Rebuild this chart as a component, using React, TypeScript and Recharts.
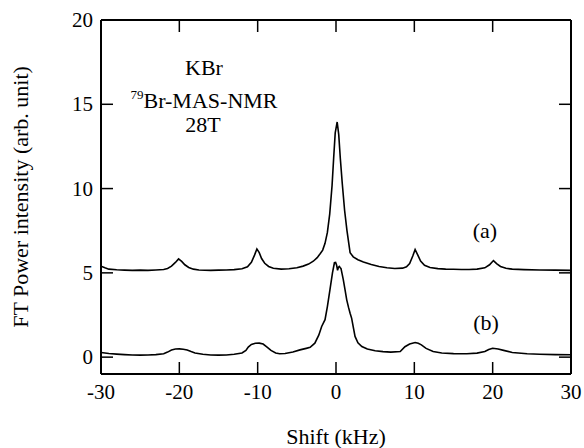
import { LineChart, Line, XAxis, YAxis, Customized } from 'recharts'

const xTicks = [-30, -20, -10, 0, 10, 20, 30]
const yTicks = [0, 5, 10, 15, 20]

// spectrum (a), upper trace
const shiftA = [
  -30, -29.5, -29, -28, -27, -26, -25, -24, -23, -22, -21.5, -21, -20.5, -20.1, -19.7, -19.3, -18.8, -18.2, -17.5,
  -16, -15, -14, -13, -12, -11.3, -10.8, -10.4, -10.1, -9.8, -9.5, -9.1, -8.6, -8, -7, -6, -5, -4.2, -3.5, -2.9,
  -2.4, -2, -1.7, -1.4, -1.1, -0.8, -0.5, -0.3, -0.1, 0.15, 0.35, 0.55, 0.8, 1.1, 1.4, 1.8, 2.2, 2.8, 3.5, 4.5,
  5.5, 6.5, 7.5, 8.5, 9, 9.4, 9.8, 10.1, 10.4, 10.8, 11.3, 12, 13, 14, 15, 16, 17, 18, 19, 19.6, 20.1, 20.5, 21,
  21.7, 22.5, 24, 26, 28, 30,
]
const intensityA = [
  5.4, 5.3, 5.22, 5.18, 5.16, 5.15, 5.16, 5.15, 5.17, 5.2, 5.26, 5.4, 5.62, 5.83, 5.68, 5.48, 5.32, 5.22, 5.17,
  5.15, 5.16, 5.17, 5.19, 5.24, 5.36, 5.62, 6.05, 6.42, 6.2, 5.85, 5.57, 5.38, 5.27, 5.22, 5.24, 5.3, 5.4, 5.52, 5.69,
  5.9, 6.15, 6.35, 6.75, 7.4, 8.5, 10.2, 11.8, 13.3, 13.95, 13.2, 11.8, 10.3, 8.7, 7.5, 6.2, 5.95, 5.78, 5.65, 5.5,
  5.38, 5.3, 5.26, 5.28, 5.36, 5.55, 6.0, 6.38, 6.1, 5.7, 5.45, 5.32, 5.25, 5.22, 5.21, 5.2, 5.2, 5.22, 5.3, 5.48,
  5.73, 5.55, 5.38, 5.27, 5.22, 5.19, 5.17, 5.16, 5.15,
]

// spectrum (b), lower trace
const shiftB = [
  -30, -29, -28, -27, -26, -25, -24, -23, -22, -21.5, -21, -20.5, -20, -19.5, -19, -18.5, -18, -17, -16, -15, -14,
  -13, -12, -11.5, -11.2, -10.8, -10.3, -9.8, -9.3, -8.8, -8.3, -7.7, -7.2, -6.5, -5.5, -4.6, -3.8, -3.3, -2.7,
  -2.2, -1.83, -1.4, -1.1, -0.77, -0.45, -0.2, -0.05, 0.08, 0.2, 0.3, 0.42, 0.55, 0.64, 0.8, 0.93, 1.15, 1.37, 1.6,
  1.8, 2, 2.2, 2.43, 2.8, 3.3, 4, 5, 6, 7, 8.2, 8.8, 9.4, 10.1, 10.5, 10.9, 11.5, 12.4, 13.5, 15, 16.7, 18, 19,
  19.5, 20, 20.7, 21.4, 22.5, 24.4, 26, 28, 30,
]
const intensityB = [
  0.28, 0.22, 0.18, 0.15, 0.13, 0.12, 0.13, 0.15, 0.2, 0.3, 0.42, 0.48, 0.49, 0.47, 0.42, 0.33, 0.25, 0.17, 0.13,
  0.12, 0.13, 0.17, 0.25, 0.4, 0.6, 0.75, 0.82, 0.83, 0.78, 0.6, 0.4, 0.25, 0.2, 0.22, 0.3, 0.43, 0.52, 0.58, 0.83,
  1.3, 1.82, 2.22, 3.0, 4.0, 5.0, 5.6, 5.62, 5.45, 5.15, 5.32, 5.38, 5.3, 5.25, 4.9, 4.6, 4.0, 3.4, 2.95, 2.6, 2.3,
  1.8, 1.23, 0.85, 0.63, 0.48, 0.38, 0.33, 0.3, 0.33, 0.62, 0.78, 0.87, 0.82, 0.73, 0.52, 0.33, 0.25, 0.21, 0.2,
  0.24, 0.33, 0.45, 0.53, 0.48, 0.4, 0.28, 0.2, 0.17, 0.15, 0.14,
]

const dataA = shiftA.map((x, i) => ({ x, y: intensityA[i] }))
const dataB = shiftB.map((x, i) => ({ x, y: intensityB[i] }))

const FONT = '"Liberation Serif", "Times New Roman", serif'
const TICK_LEN = 12

const BottomTick = ({ x, y, payload }: any) => (
  <g>
    <line x1={x} y1={y} x2={x} y2={y - TICK_LEN} stroke="#000" strokeWidth={1.5} />
    <text x={x} y={y + 25} textAnchor="middle" fontSize={21} fontFamily={FONT} fill="#000">
      {payload.value}
    </text>
  </g>
)

const TopTick = ({ x, y }: any) => (
  <line x1={x} y1={y} x2={x} y2={y + TICK_LEN} stroke="#000" strokeWidth={1.5} />
)

const LeftTick = ({ x, y, payload }: any) => (
  <g>
    <line x1={x} y1={y} x2={x + TICK_LEN} y2={y} stroke="#000" strokeWidth={1.5} />
    <text x={x - 8} y={y + 7} textAnchor="end" fontSize={21} fontFamily={FONT} fill="#000">
      {payload.value}
    </text>
  </g>
)

const RightTick = ({ x, y }: any) => (
  <line x1={x} y1={y} x2={x - TICK_LEN} y2={y} stroke="#000" strokeWidth={1.5} />
)

const Annotations = () => (
  <g fontFamily={FONT} fontSize={22} fill="#000">
    <text x={204} y={75} textAnchor="middle">KBr</text>
    <text x={204} y={108} textAnchor="middle">
      <tspan fontSize={13} dy={-9}>79</tspan>
      <tspan dy={9}>Br-MAS-NMR</tspan>
    </text>
    <text x={203} y={132} textAnchor="middle">28T</text>
    <text x={485} y={238} textAnchor="middle">(a)</text>
    <text x={486} y={330} textAnchor="middle">(b)</text>
  </g>
)

export default function App() {
  return (
    <div style={{ position: 'absolute', left: 0, top: 0, background: '#fff' }}>
      <LineChart width={584} height={448} margin={{ top: 0, right: 0, bottom: 0, left: 0 }}>
        <XAxis
          type="number"
          dataKey="x"
          domain={[-30, 30]}
          ticks={xTicks}
          allowDataOverflow
          height={74}
          tickSize={0}
          tickMargin={0}
          tickLine={false}
          axisLine={{ stroke: '#000', strokeWidth: 2 }}
          tick={<BottomTick />}
          label={{
            content: ({ viewBox }: any) => (
              <text x={viewBox.x + viewBox.width / 2} y={viewBox.y + 70} textAnchor="middle"
                fontSize={22} fontFamily={FONT} fill="#000">
                Shift (kHz)
              </text>
            ),
          }}
        />
        <XAxis
          xAxisId="top"
          orientation="top"
          type="number"
          dataKey="x"
          domain={[-30, 30]}
          ticks={xTicks}
          allowDataOverflow
          height={20}
          tickSize={0}
          tickMargin={0}
          tickLine={false}
          axisLine={{ stroke: '#000', strokeWidth: 2 }}
          tick={<TopTick />}
        />
        <YAxis
          type="number"
          domain={[-1, 20]}
          ticks={yTicks}
          allowDataOverflow
          width={101}
          tickSize={0}
          tickMargin={0}
          tickLine={false}
          axisLine={{ stroke: '#000', strokeWidth: 2 }}
          tick={<LeftTick />}
          label={{
            content: ({ viewBox }: any) => {
              const cx = 28
              const cy = 197
              return (
                <text x={cx} y={cy} transform={`rotate(-90 ${cx} ${cy})`} textAnchor="middle"
                  fontSize={22} fontFamily={FONT} fill="#000">
                  FT Power intensity (arb. unit)
                </text>
              )
            },
          }}
        />
        <YAxis
          yAxisId="right"
          orientation="right"
          type="number"
          domain={[-1, 20]}
          ticks={yTicks}
          allowDataOverflow
          width={13}
          tickSize={0}
          tickMargin={0}
          tickLine={false}
          axisLine={{ stroke: '#000', strokeWidth: 2 }}
          tick={<RightTick />}
        />
        <Line data={dataA} dataKey="y" type="linear" stroke="#000" strokeWidth={1.6} dot={false}
          isAnimationActive={false} />
        <Line data={dataB} dataKey="y" type="linear" stroke="#000" strokeWidth={1.6} dot={false}
          isAnimationActive={false} />
        <Customized component={<Annotations />} />
      </LineChart>
    </div>
  )
}
